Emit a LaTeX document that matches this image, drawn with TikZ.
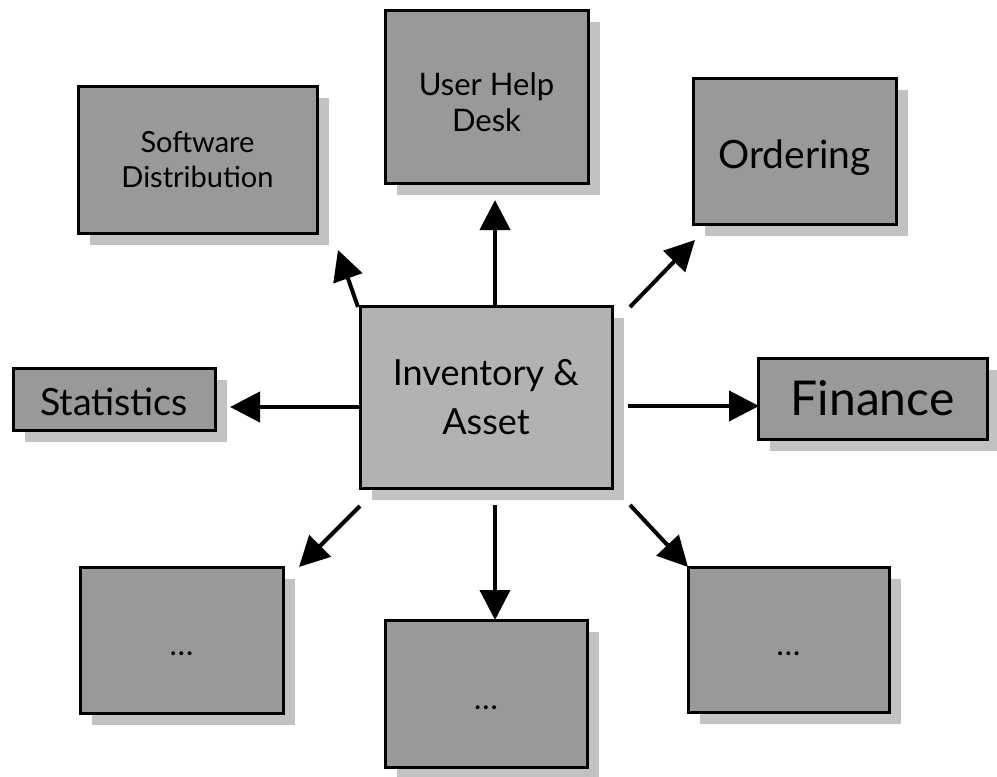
\documentclass[tikz,border=0pt]{standalone}
\usepackage{fontspec}
\setmainfont{Lato}
\usetikzlibrary{arrows.meta,shadows}

\tikzset{
  box/.style={draw=black, line width=3pt, fill=black!40, outer sep=0pt,
    align=center, inner sep=2pt,
    drop shadow={shadow xshift=12pt, shadow yshift=-12pt, fill=black!24, opacity=1}},
  hub/.style={box, fill=black!30},
  dotsbox/.style={box, font=\fontsize{26}{30}\bfseries\selectfont},
  arr/.style={line width=4pt, -{Triangle[length=30pt,width=30pt]}}
}
% move a line down without changing the size the node sees
\newcommand{\sinkline}[2]{\raisebox{-#1}[\height][\depth]{#2}}
\newcommand{\moredots}{\sinkline{14pt}{.\hspace{2pt}.\hspace{2pt}.}}

\begin{document}
\begin{tikzpicture}[x=1pt, y=-1pt]
  \useasboundingbox (0,0) rectangle (997,777);

  % central box
  \node[hub, minimum width=252pt, minimum height=182pt,
        font=\fontsize{36}{49}\selectfont] (inv) at (486,397) {Inventory \&\\Asset};

  % surrounding boxes
  \node[box, minimum width=239pt, minimum height=147pt,
        font=\fontsize{29}{35}\selectfont] (sd) at (197.5,159.5) {Software\\Distribution};
  \node[box, minimum width=203pt, minimum height=173pt,
        font=\fontsize{31}{36}\selectfont] (uhd) at (486.5,96.5) {\sinkline{6pt}{User Help}\\\sinkline{6pt}{Desk}};
  \node[box, minimum width=203pt, minimum height=146pt,
        font=\fontsize{39}{46}\selectfont] (ord) at (794.5,151) {\sinkline{7pt}{Ordering}};
  \node[box, minimum width=202pt, minimum height=62pt,
        font=\fontsize{37.5}{44}\selectfont] (stat) at (114,399) {\sinkline{3pt}{Statistics}};
  \node[box, minimum width=229pt, minimum height=81pt,
        font=\fontsize{48}{56}\selectfont] (fin) at (872.5,398.5) {Finance};
  \node[dotsbox, minimum width=203pt, minimum height=146pt] (bl) at (181.5,640) {\moredots};
  \node[dotsbox, minimum width=202pt, minimum height=147pt] (bm) at (486,693.5) {\moredots};
  \node[dotsbox, minimum width=201pt, minimum height=145pt] (br) at (788.5,639.5) {\moredots};

  % connectors out of the central box
  \draw[arr] ([xshift=-2pt,yshift=-1pt]inv.north west) -- ([xshift=21pt,yshift=-17pt]sd.south east);
  \draw[arr] ([xshift=9pt]inv.north) -- ([xshift=8.5pt,yshift=-17pt]uhd.south);
  \draw[arr] ([xshift=18pt,yshift=-1pt]inv.north east) -- ([xshift=2pt,yshift=-16pt]ord.south west);
  \draw[arr] ([yshift=-10pt]inv.west) -- ([xshift=15pt,yshift=-8pt]stat.east);
  \draw[arr] ([xshift=16pt,yshift=-9pt]inv.east) -- ([xshift=1pt,yshift=-7.5pt]fin.west);
  \draw[arr] ([yshift=-18pt]inv.south west) -- ([xshift=16pt]bl.north east);
  \draw[arr] ([xshift=9pt,yshift=-17pt]inv.south) -- ([xshift=9pt]bm.north);
  \draw[arr] ([xshift=18pt,yshift=-17pt]inv.south east) -- (br.north west);
\end{tikzpicture}
\end{document}
